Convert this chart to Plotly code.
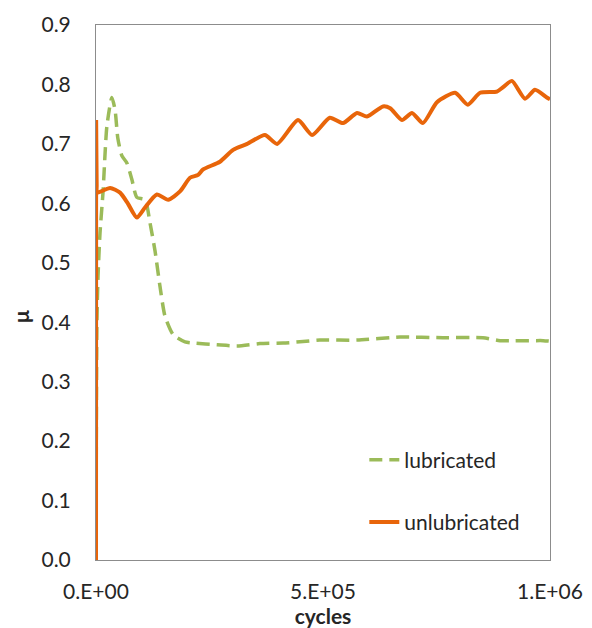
import plotly.graph_objects as go

# lubricated (green dashed)
lub_cycles = [0, 2000, 4400, 8800, 15400, 24000, 35000, 42000, 48000, 57000, 68000, 79000,
              90000, 108000, 119000, 130000, 141000, 152000, 170000, 196000, 214000, 267000,
              311000, 361000, 412000, 449000, 493000, 575000, 670000, 764000, 852000, 890000,
              985000, 1000000]
lub_mu = [0.0, 0.40, 0.476, 0.55, 0.618, 0.73, 0.778, 0.757, 0.71, 0.68, 0.668, 0.64,
          0.61, 0.606, 0.567, 0.52, 0.46, 0.41, 0.379, 0.367, 0.365, 0.362,
          0.36, 0.364, 0.365, 0.367, 0.37, 0.37, 0.375, 0.374, 0.374, 0.369,
          0.369, 0.368]

# unlubricated (orange solid)
unl_cycles = [0, 300, 1500, 2200, 31000, 53000, 70000, 90000, 108000, 134000, 159000, 185000,
              207000, 225000, 236000, 273000, 302000, 333000, 372000, 399000, 445000, 476000,
              515000, 544000, 575000, 597000, 632000, 648000, 674000, 696000, 720000, 751000,
              791000, 819000, 846000, 883000, 896000, 916000, 945000, 967000, 993000, 1000000]
unl_mu = [0.0, 0.74, 0.63, 0.618, 0.626, 0.618, 0.60, 0.576, 0.593, 0.615, 0.606, 0.62,
          0.643, 0.648, 0.657, 0.67, 0.69, 0.70, 0.715, 0.70, 0.74, 0.715,
          0.744, 0.735, 0.752, 0.746, 0.763, 0.76, 0.74, 0.752, 0.735, 0.77,
          0.786, 0.766, 0.786, 0.788, 0.795, 0.806, 0.776, 0.791, 0.778, 0.775]

x_tickvals = [0, 500000, 1000000]
x_ticktext = ["0.E+00", "5.E+05", "1.E+06"]

FONT = "Lato"

fig = go.Figure()
fig.add_trace(go.Scatter(
    x=lub_cycles, y=lub_mu, mode="lines", name="lubricated", legendgroup="a",
    line=dict(color="#9BBB59", width=3.5, dash="13px,7px", shape="spline", smoothing=0.6),
))
fig.add_trace(go.Scatter(
    x=unl_cycles, y=unl_mu, mode="lines", name="unlubricated", legendgroup="b",
    line=dict(color="#E8650A", width=4, shape="spline", smoothing=0.6),
))

fig.update_layout(
    width=584, height=620,
    margin=dict(l=88, r=42, t=17, b=68, autoexpand=False),
    paper_bgcolor="white", plot_bgcolor="white",
    font=dict(family=FONT, size=21, color="#262626"),
    showlegend=True,
    legend=dict(x=0.591, y=0.225, xanchor="left", yanchor="top",
                bgcolor="rgba(0,0,0,0)", font=dict(size=21, family=FONT),
                tracegroupgap=32, traceorder="grouped"),
    xaxis=dict(range=[0, 1000000], tickvals=x_tickvals, ticktext=x_ticktext,
               showgrid=False, zeroline=False, showline=True, linecolor="#8c8c8c",
               linewidth=1, mirror=True, ticks="", tickfont=dict(size=21),
               ticklabelstandoff=13,
               title=dict(text="<b>cycles</b>", font=dict(size=21), standoff=0)),
    yaxis=dict(range=[0, 0.9], dtick=0.1, tickformat=".1f",
               showgrid=False, zeroline=False, showline=True, linecolor="#8c8c8c",
               linewidth=1, mirror=True, ticks="", tickfont=dict(size=21),
               ticklabelstandoff=20,
               title=dict(text="<b>μ</b>&nbsp;&nbsp;&nbsp;&nbsp;&nbsp;&nbsp;&nbsp;&nbsp;&nbsp;",
                          font=dict(size=21), standoff=6)),
)

fig.write_html("out.html")
